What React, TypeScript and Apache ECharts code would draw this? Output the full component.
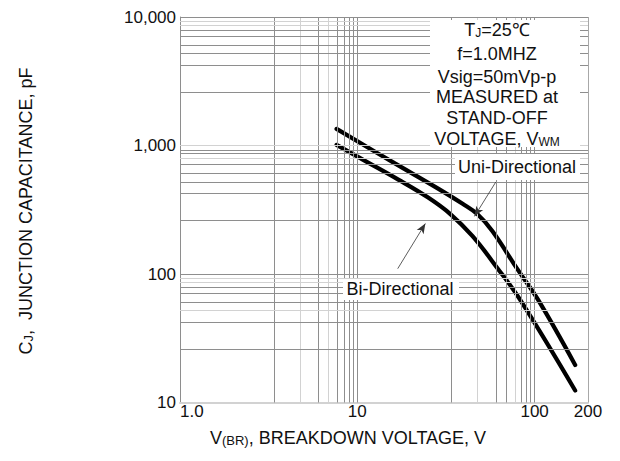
import React, { useEffect, useRef } from "react";
import * as echarts from "echarts";

// ---- data ----
const uniV = [7.64, 16.29, 28.4, 39.25, 47.66, 57.86, 79.95, 104.9, 169.3];
const uniC = [1346, 726, 464, 351.8, 291.5, 215, 109, 62.6, 19.6];
const biV = [7.64, 11.05, 16.93, 24.96, 33.6, 44.67, 61.7, 83.1, 169.3];
const biC = [1011, 759, 545, 395, 291.5, 196.7, 111, 62.6, 12.4];

const uniArrow = [[60.4, 520], [45.8, 281]];
const biArrow = [[16.9, 110], [24.2, 247]];

const xTicks = [1, 10, 100, 200];
const yTicks = [10, 100, 1000, 10000];

const xGridValues = [3.4, 4.75, 6.05, 6.9, 7.75, 8.4, 9.0, 9.5, 10, 34, 47.5, 60.5, 69, 77.5, 84, 90, 95, 100];
const xLightValues = [4.75, 6.9, 47.5, 77.5];
const yGridValues = [
  26, 42.5, 52, 60.5, 71, 79.5, 86.5, 92.5, 100,
  260, 425, 520, 605, 710, 795, 865, 925, 1000,
  2600, 4250, 5200, 6050, 7100, 7950, 8650, 9250, 10000,
];
const yLightValues = [52, 86.5, 92.5, 795, 1000, 8650, 9250];

const noteLines = [
  "T{s|J}=25℃",
  "f=1.0MHZ",
  "Vsig=50mVp-p",
  "MEASURED at",
  "STAND-OFF",
  "VOLTAGE, V{s|WM}",
];
const uniLabel = "Uni-Directional";
const biLabel = "Bi-Directional";
const xName = "V{s|(BR)}, BREAKDOWN VOLTAGE, V";
const yName = "C{s|J},  JUNCTION CAPACITANCE, pF";

const FONT = "Liberation Sans, Arial, Helvetica, sans-serif";
const DARK = "#8e8e8e";
const LIGHT = "#d2d2d2";

export default function App() {
  const ref = useRef<HTMLDivElement>(null);
  useEffect(() => {
    document.body.style.margin = "0";
    if (!ref.current) return;
    const chart = echarts.init(ref.current, undefined, { renderer: "svg" });

    const gridLines: any[] = [];
    xGridValues.forEach((v) =>
      gridLines.push({
        xAxis: v,
        lineStyle: { color: xLightValues.includes(v) ? LIGHT : DARK, width: 1, type: "solid" },
      })
    );
    yGridValues.forEach((v) =>
      gridLines.push({
        yAxis: v,
        lineStyle: { color: yLightValues.includes(v) ? LIGHT : DARK, width: 1, type: "solid" },
      })
    );
    gridLines.push({ xAxis: xTicks[xTicks.length - 1], lineStyle: { color: "#a8a8a8", width: 1, type: "solid" } });

    const sub = { fontSize: 12, fontFamily: FONT, fill: "#111", verticalAlign: "bottom", lineHeight: 14 };
    const noteY = [30, 54, 77, 97, 118, 139];

    const graphic: any[] = [
      { type: "rect", z: 10, shape: { x: 430, y: 20, width: 150, height: 127 }, style: { fill: "#fff" } },
      { type: "rect", z: 10, shape: { x: 455, y: 154, width: 125, height: 26 }, style: { fill: "#fff" } },
      { type: "rect", z: 10, shape: { x: 343, y: 279, width: 116, height: 21 }, style: { fill: "#fff" } },
      ...noteLines.map((t, i) => ({
        type: "text",
        z: 11,
        x: 497,
        y: noteY[i],
        style: {
          text: t,
          rich: { s: sub },
          font: `18px ${FONT}`,
          fill: "#111",
          align: "center",
          verticalAlign: "middle",
        },
      })),
      {
        type: "text", z: 11, x: 517, y: 167,
        style: { text: uniLabel, font: `18px ${FONT}`, fill: "#111", align: "center", verticalAlign: "middle" },
      },
      {
        type: "text", z: 11, x: 400, y: 289,
        style: { text: biLabel, font: `18px ${FONT}`, fill: "#111", align: "center", verticalAlign: "middle" },
      },
      {
        type: "text", z: 11, x: 348, y: 438,
        style: { text: xName, rich: { s: { ...sub, fontSize: 13 } }, font: `18px ${FONT}`, fill: "#111", align: "center", verticalAlign: "middle" },
      },
      {
        type: "text", z: 11, x: 26, y: 211, rotation: Math.PI / 2,
        style: { text: yName, rich: { s: { ...sub, fontSize: 13 } }, font: `18px ${FONT}`, fill: "#111", align: "center", verticalAlign: "middle" },
      },
    ];

    chart.setOption({
      animation: false,
      backgroundColor: "#fff",
      grid: { left: 180, top: 17, right: 32, bottom: 58.5, containLabel: false },
      xAxis: {
        type: "log",
        logBase: 10,
        min: xTicks[0],
        max: xTicks[xTicks.length - 1],
        axisLine: { show: true, lineStyle: { color: LIGHT, width: 2 } },
        axisTick: { show: false },
        splitLine: { show: false },
        axisLabel: {
          color: "#111",
          fontSize: 17,
          fontFamily: FONT,
          margin: 0,
          alignMinLabel: "left",
          formatter: (v: number) => (Math.abs(v - 1) < 1e-9 ? "1.0" : String(Math.round(v))),
        },
      },
      yAxis: {
        type: "log",
        logBase: 10,
        min: yTicks[0],
        max: yTicks[yTicks.length - 1],
        axisLine: { show: true, lineStyle: { color: DARK, width: 1 } },
        axisTick: { show: false },
        splitLine: { show: false },
        axisLabel: {
          color: "#111",
          fontSize: 17,
          fontFamily: FONT,
          margin: 4,
          formatter: (v: number) => Math.round(v).toLocaleString("en-US"),
        },
      },
      graphic,
      series: [
        {
          type: "line",
          z: 1,
          data: [[xTicks[0], yTicks[0]]],
          showSymbol: false,
          lineStyle: { opacity: 0 },
          silent: true,
          markLine: {
            silent: true,
            symbol: ["none", "none"],
            label: { show: false },
            emphasis: { disabled: true },
            data: gridLines,
          },
        },
        {
          name: uniLabel,
          type: "line",
          z: 3,
          data: uniV.map((v, i) => [v, uniC[i]]),
          smooth: 0.4,
          showSymbol: false,
          lineStyle: { color: "#000", width: 4.2, cap: "round" },
        },
        {
          name: biLabel,
          type: "line",
          z: 3,
          data: biV.map((v, i) => [v, biC[i]]),
          smooth: 0.4,
          showSymbol: false,
          lineStyle: { color: "#000", width: 4.2, cap: "round" },
        },
        {
          type: "line",
          z: 12,
          data: [],
          silent: true,
          markLine: {
            silent: true,
            symbol: ["none", "arrow"],
            symbolSize: [6, 10],
            label: { show: false },
            emphasis: { disabled: true },
            lineStyle: { color: "#333", width: 0.8, type: "solid" },
            data: [
              [{ coord: uniArrow[0] }, { coord: uniArrow[1] }],
              [{ coord: biArrow[0] }, { coord: biArrow[1] }],
            ],
          },
        },
      ],
    });
    return () => chart.dispose();
  }, []);
  return <div ref={ref} style={{ width: 620, height: 461 }} />;
}
